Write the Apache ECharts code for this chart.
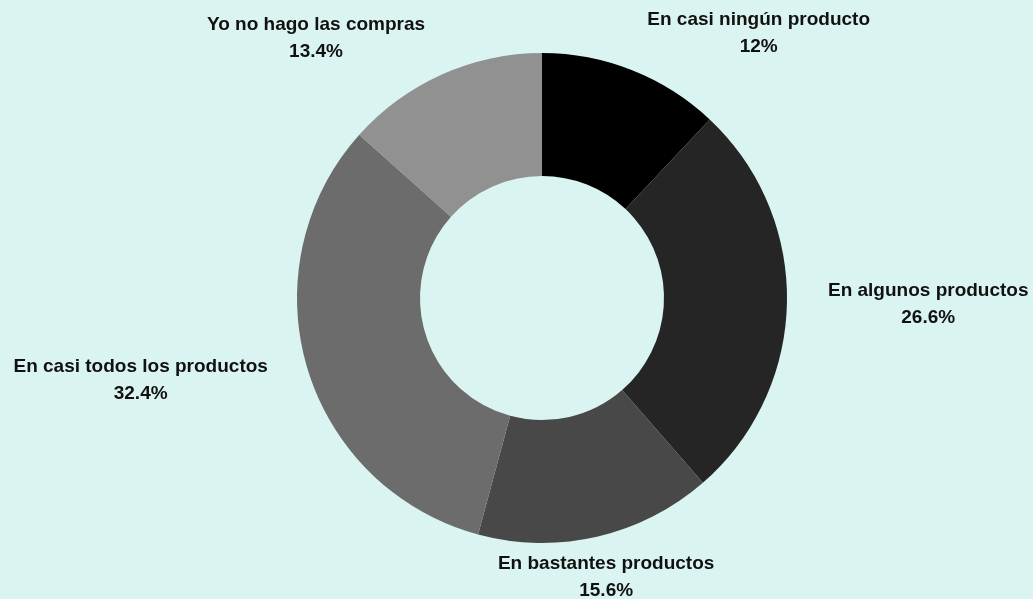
<!DOCTYPE html>
<html>
<head>
<meta charset="utf-8">
<script src="https://cdn.jsdelivr.net/npm/echarts@6/dist/echarts.min.js"></script>
<style>
html,body{margin:0;padding:0;background:#daf5f1;}
#chart{width:1033px;height:599px;}
</style>
</head>
<body>
<div id="chart"></div>
<script>
var categories = ['En casi ningún producto', 'En algunos productos', 'En bastantes productos', 'En casi todos los productos', 'Yo no hago las compras'];
var values = [12, 26.6, 15.6, 32.4, 13.4];
var colors = ['#000000', '#252525', '#484848', '#6c6c6c', '#919191'];

var chart = echarts.init(document.getElementById('chart'));
chart.setOption({
  backgroundColor: '#daf5f1',
  animation: false,
  series: [{
    type: 'pie',
    center: ['52.47%', '49.75%'],
    radius: [122, 245],
    startAngle: 90,
    clockwise: true,
    avoidLabelOverlap: false,
    data: categories.map(function (c, i) {
      return { name: c, value: values[i], itemStyle: { color: colors[i] } };
    }),
    itemStyle: { borderWidth: 0 },
    label: {
      show: true,
      position: 'outside',
      formatter: '{b}\n{c}%',
      fontFamily: '"Liberation Sans", Arial, sans-serif',
      fontWeight: 'bold',
      fontSize: 19,
      lineHeight: 27,
      color: '#111111'
    },
    labelLine: { show: true, length: 41, length2: 0, lineStyle: { opacity: 0 } },
    labelLayout: function (p) {
      var pts = p.labelLinePoints;
      if (!pts) return {};
      var ax = pts[pts.length - 1][0], ay = pts[pts.length - 1][1];
      var dx = pts[1][0] - pts[0][0], dy = pts[1][1] - pts[0][1];
      var len = Math.sqrt(dx * dx + dy * dy) || 1;
      var s = dx / len;
      var w = p.labelRect.width;
      var x;
      if (Math.abs(s) < 0.3) x = ax;
      else if (s > 0) x = ax + w / 2;
      else x = ax - w / 2;
      return { x: x, y: ay + 1, align: 'center', verticalAlign: 'middle' };
    }
  }]
});
</script>
</body>
</html>
